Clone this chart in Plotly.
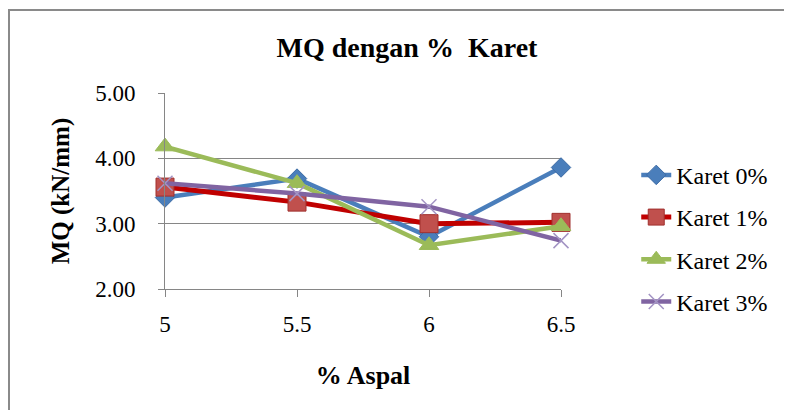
import plotly.graph_objects as go

aspal = [5, 5.5, 6, 6.5]
x_tick_labels = ["5", "5.5", "6", "6.5"]
y_tick_vals = [2, 3, 4, 5]
y_tick_labels = ["2.00", "3.00", "4.00", "5.00"]

karet_0 = [3.40, 3.69, 2.80, 3.86]
karet_1 = [3.56, 3.33, 3.00, 3.02]
karet_2 = [4.18, 3.62, 2.67, 2.96]
karet_3 = [3.62, 3.46, 3.26, 2.74]

series_names = ["Karet 0%", "Karet 1%", "Karet 2%", "Karet 3%"]

FONT = "Liberation Serif"
W, H = 784, 402  # page body has an 8px margin

fig = go.Figure()

styles = [
    dict(line=dict(color="#4A7EBB", width=4.5),
         marker=dict(symbol="diamond", size=15, color="#4A7EBB",
                     line=dict(color="#3C6BA5", width=1))),
    dict(line=dict(color="#C00000", width=5),
         marker=dict(symbol="square", size=18, color="#C0504D",
                     line=dict(color="#A0302E", width=1))),
    dict(line=dict(color="#9BBB59", width=4.5),
         marker=dict(symbol="triangle-up", size=17, color="#9BBB59",
                     line=dict(color="#9BBB59", width=1))),
    dict(line=dict(color="#8064A2", width=4.5),
         marker=dict(symbol="x-thin", size=15, color="#9F8FC0",
                     line=dict(color="#A394C4", width=1.5))),
]

for name, vals, st, g in zip(series_names, [karet_0, karet_1, karet_2, karet_3], styles, "abcd"):
    fig.add_trace(go.Scatter(
        x=aspal, y=vals, name=name, mode="lines+markers",
        line=st["line"], marker=st["marker"], cliponaxis=False,
        legendgroup=g,
    ))

# plot area in figure pixels: x 157..553, y 85..281
PL, PR, PT, PB = 157, 553, 85, 281
pw, ph = PR - PL, PB - PT

# outer chart border
fig.add_shape(type="rect", xref="paper", yref="paper",
              x0=(1 - PL) / pw, x1=(W + 5 - PL) / pw,
              y0=(PB - (H + 5)) / ph, y1=(PB - 2) / ph,
              line=dict(color="#8A8A8A", width=2), layer="below")

fig.update_layout(
    width=W, height=H,
    margin=dict(l=PL, r=W - PR, t=PT, b=H - PB),
    paper_bgcolor="white", plot_bgcolor="white",
    font=dict(family=FONT, color="black"),
    title=dict(text="<b>MQ dengan %  Karet</b>", x=399 / W, xanchor="center",
               y=1 - 39 / H, yanchor="middle",
               font=dict(family=FONT, size=28, color="black")),
    legend=dict(x=1.19, xanchor="left", y=0.695, yanchor="top",
                font=dict(family=FONT, size=24, color="black"),
                tracegroupgap=8, bgcolor="rgba(0,0,0,0)"),
    xaxis=dict(range=[5, 6.5], tickvals=aspal, ticktext=x_tick_labels,
               showline=True, linecolor="#868686", linewidth=1,
               ticks="outside", ticklen=7, tickcolor="#868686",
               showgrid=False, zeroline=False,
               tickfont=dict(family=FONT, size=23),
               ticklabelstandoff=7,
               title=dict(text="<b>% Aspal</b>", font=dict(family=FONT, size=26),
                          standoff=30)),
    yaxis=dict(range=[2, 5], tickvals=y_tick_vals, ticktext=y_tick_labels,
               showline=True, linecolor="#868686", linewidth=1,
               ticks="outside", ticklen=6, tickcolor="#868686",
               showgrid=True, gridcolor="#868686", gridwidth=1,
               zeroline=False,
               tickfont=dict(family=FONT, size=23),
               ticklabelstandoff=18,
               title=dict(text="<b>MQ (kN/mm)</b>", font=dict(family=FONT, size=25),
                          standoff=18)),
)

fig.write_html("out.html")
